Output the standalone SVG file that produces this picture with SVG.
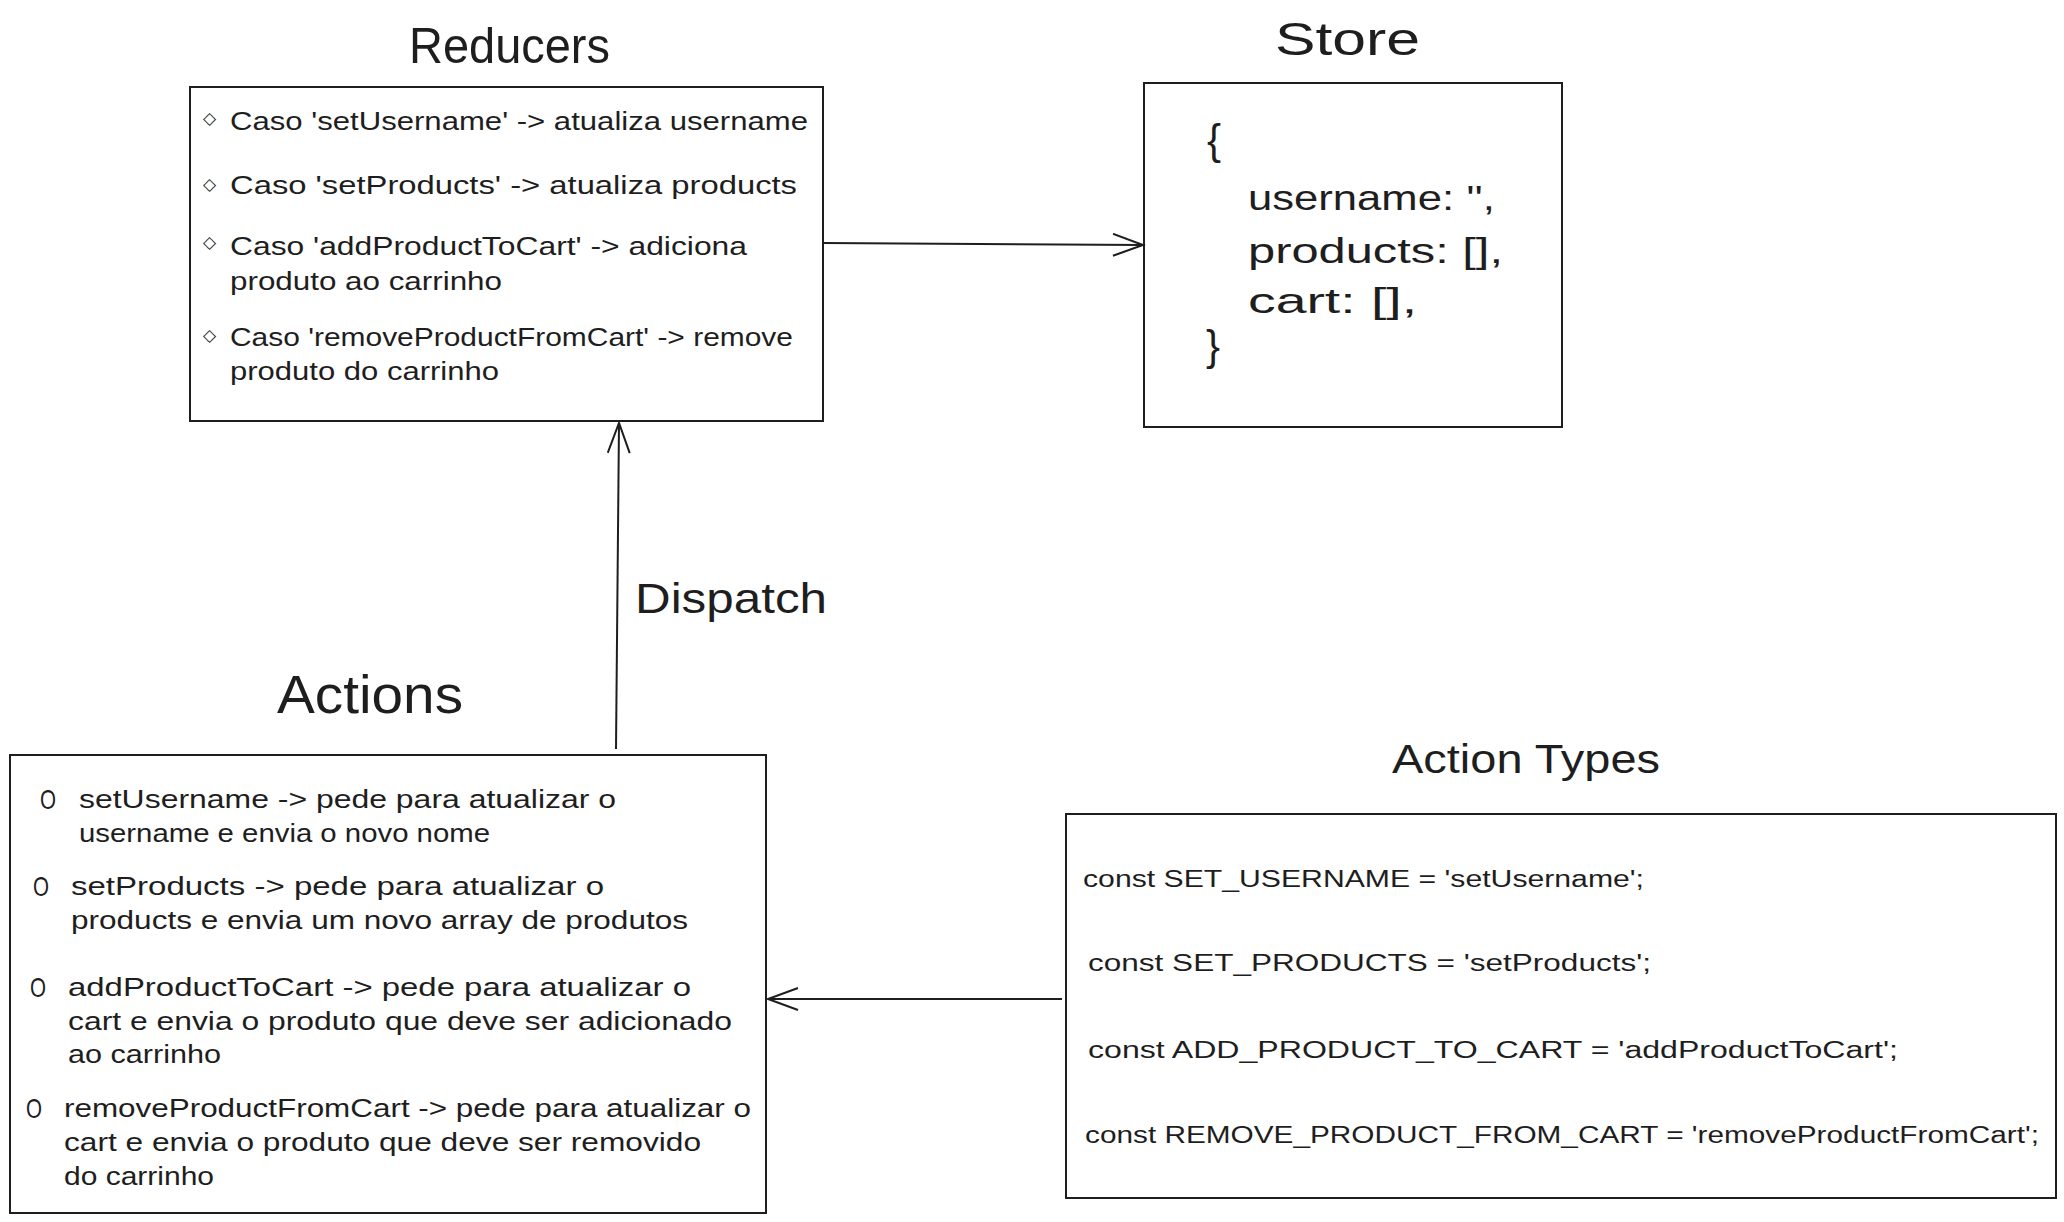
<svg xmlns="http://www.w3.org/2000/svg" width="2064" height="1222" viewBox="0 0 2064 1222">
<style>
.box{fill:#fff;stroke:#1e1e1e;stroke-width:2}
.t{font-family:"Liberation Sans",Arial,sans-serif;fill:#1e1e1e}
.title{font-size:50px}
.r{font-size:25px}
.s{font-size:35px}
.a{font-size:25px}
.o{font-size:28px}
.c{font-size:23px}
.d{font-family:"DejaVu Sans",sans-serif;font-size:17px;fill:#1e1e1e}
.conn{fill:none;stroke:#1e1e1e;stroke-width:2}
</style>
<defs>
<marker id="arr" markerUnits="userSpaceOnUse" markerWidth="36" markerHeight="28" refX="31" refY="12" orient="auto">
<path d="M1,1 L31,12 L1,23" fill="none" stroke="#1e1e1e" stroke-width="2"/>
</marker>
</defs>
<rect width="2064" height="1222" fill="#fff"/>

<g id="reducers-title"><text class="t title" x="409" y="63" textLength="201" lengthAdjust="spacingAndGlyphs">Reducers</text></g>
<g id="store-title"><text class="t title" x="1275" y="55" textLength="145" lengthAdjust="spacingAndGlyphs" style="font-size:46px">Store</text></g>
<g id="actions-title"><text class="t title" x="277" y="713" textLength="186" lengthAdjust="spacingAndGlyphs" style="font-size:53px">Actions</text></g>
<g id="action-types-title"><text class="t title" x="1392" y="773" textLength="268" lengthAdjust="spacingAndGlyphs" style="font-size:40px">Action Types</text></g>

<g id="reducers">
<rect class="box" x="190" y="87" width="633" height="334"/>
<text class="d" x="203" y="124">◇</text>
<text class="t r" x="230" y="130" textLength="578" lengthAdjust="spacingAndGlyphs">Caso 'setUsername' -&gt; atualiza username</text>
<text class="d" x="203" y="190">◇</text>
<text class="t r" x="230" y="194" textLength="567" lengthAdjust="spacingAndGlyphs">Caso 'setProducts' -&gt; atualiza products</text>
<text class="d" x="203" y="248">◇</text>
<text class="t r" x="230" y="255" textLength="517" lengthAdjust="spacingAndGlyphs">Caso 'addProductToCart' -&gt; adiciona</text>
<text class="t r" x="230" y="290" textLength="272" lengthAdjust="spacingAndGlyphs">produto ao carrinho</text>
<text class="d" x="203" y="341">◇</text>
<text class="t r" x="230" y="346" textLength="563" lengthAdjust="spacingAndGlyphs">Caso 'removeProductFromCart' -&gt; remove</text>
<text class="t r" x="230" y="380" textLength="269" lengthAdjust="spacingAndGlyphs">produto do carrinho</text>
</g>

<g id="store">
<rect class="box" x="1144" y="83" width="418" height="344"/>
<text class="t s" x="1207" y="154" style="font-size:42px">{</text>
<text class="t s" x="1248" y="210" textLength="247" lengthAdjust="spacingAndGlyphs">username: '',</text>
<text class="t s" x="1248" y="263" textLength="255" lengthAdjust="spacingAndGlyphs">products: [],</text>
<text class="t s" x="1248" y="313" textLength="169" lengthAdjust="spacingAndGlyphs">cart: [],</text>
<text class="t s" x="1206" y="360" style="font-size:42px">}</text>
</g>

<g id="actions">
<rect class="box" x="10" y="755" width="756" height="458"/>
<text class="t o" x="40" y="809" textLength="16" lengthAdjust="spacingAndGlyphs">O</text>
<text class="t a" x="79" y="808" textLength="537" lengthAdjust="spacingAndGlyphs">setUsername -&gt; pede para atualizar o</text>
<text class="t a" x="79" y="842" textLength="411" lengthAdjust="spacingAndGlyphs">username e envia o novo nome</text>
<text class="t o" x="33" y="896" textLength="16" lengthAdjust="spacingAndGlyphs">O</text>
<text class="t a" x="71" y="895" textLength="533" lengthAdjust="spacingAndGlyphs">setProducts -&gt; pede para atualizar o</text>
<text class="t a" x="71" y="929" textLength="617" lengthAdjust="spacingAndGlyphs">products e envia um novo array de produtos</text>
<text class="t o" x="30" y="997" textLength="16" lengthAdjust="spacingAndGlyphs">O</text>
<text class="t a" x="68" y="996" textLength="623" lengthAdjust="spacingAndGlyphs">addProductToCart -&gt; pede para atualizar o</text>
<text class="t a" x="68" y="1030" textLength="664" lengthAdjust="spacingAndGlyphs">cart e envia o produto que deve ser adicionado</text>
<text class="t a" x="68" y="1063" textLength="153" lengthAdjust="spacingAndGlyphs">ao carrinho</text>
<text class="t o" x="26" y="1118" textLength="16" lengthAdjust="spacingAndGlyphs">O</text>
<text class="t a" x="64" y="1117" textLength="687" lengthAdjust="spacingAndGlyphs">removeProductFromCart -&gt; pede para atualizar o</text>
<text class="t a" x="64" y="1151" textLength="637" lengthAdjust="spacingAndGlyphs">cart e envia o produto que deve ser removido</text>
<text class="t a" x="64" y="1185" textLength="150" lengthAdjust="spacingAndGlyphs">do carrinho</text>
</g>

<g id="action-types">
<rect class="box" x="1066" y="814" width="990" height="384"/>
<text class="t c" x="1083" y="887" textLength="561" lengthAdjust="spacingAndGlyphs">const SET_USERNAME = 'setUsername';</text>
<text class="t c" x="1088" y="971" textLength="563" lengthAdjust="spacingAndGlyphs">const SET_PRODUCTS = 'setProducts';</text>
<text class="t c" x="1088" y="1058" textLength="810" lengthAdjust="spacingAndGlyphs">const ADD_PRODUCT_TO_CART = 'addProductToCart';</text>
<text class="t c" x="1085" y="1143" textLength="954" lengthAdjust="spacingAndGlyphs">const REMOVE_PRODUCT_FROM_CART = 'removeProductFromCart';</text>
</g>

<g id="connectors">
<path class="conn" d="M823,243 L1143,245" marker-end="url(#arr)"/>
<path class="conn" d="M616,749 L619,423" marker-end="url(#arr)"/>
<path class="conn" d="M1062,999 L768,999" marker-end="url(#arr)"/>
<text class="t" x="635" y="613" textLength="192" lengthAdjust="spacingAndGlyphs" style="font-size:43px">Dispatch</text>
</g>
</svg>
